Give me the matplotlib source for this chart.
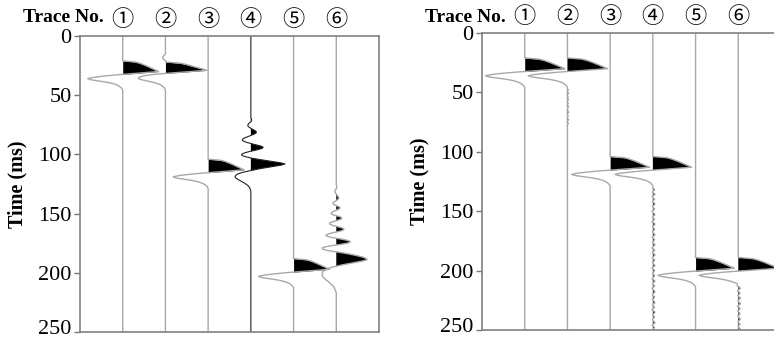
import numpy as np
import matplotlib
matplotlib.use("Agg")
import matplotlib.pyplot as plt
from matplotlib.transforms import ScaledTranslation

plt.rcParams["font.family"] = "serif"
plt.rcParams["font.serif"] = ["Liberation Serif", "DejaVu Serif"]

# time axis (ms), 1 ms sampling
T_END = 250
TICKS = [0, 50, 100, 150, 200, 250]
TRACE_LABELS = ["\u2460", "\u2461", "\u2462", "\u2463", "\u2464", "\u2465"]

# basic reflection wavelet, 1 ms samples from onset
WAVELET = [0.00, 0.30, 0.40, 0.47, 0.54, 0.60, 0.66, 0.72, 0.78, 0.84,
           0.50, 0.15, -0.20, -0.48, -0.70, -0.82, -0.74, -0.56, -0.38, -0.25,
           -0.16, -0.10, -0.06, -0.03, -0.01, 0.00]

# trace 2 (before): small precursor blip then a sharper arrival
TRACE2_ARRIVAL = [-0.02, -0.05, -0.06, -0.06, -0.03, 0.00, 0.02, 0.35, 0.48, 0.58,
                  0.68, 0.78, 0.88, 0.97, 0.60, 0.20, -0.15, -0.40, -0.55, -0.62,
                  -0.63, -0.55, -0.42, -0.30, -0.20, -0.13, -0.08, -0.05, -0.02, -0.01,
                  0.00]

# trace 4 (before): ringing ahead of the arrival, starts at 68 ms
TRACE4_RINGING = [0.00, 0.00, 0.01, 0.02, 0.01, -0.02, -0.05, -0.07, -0.07, -0.04,
                  0.00, 0.05, 0.10, 0.13, 0.12, 0.07, 0.00, -0.07, -0.14, -0.19,
                  -0.20, -0.16, -0.08, 0.02, 0.13, 0.24, 0.29, 0.26, 0.16, 0.04,
                  -0.08, -0.17, -0.22, -0.20, -0.12, 0.00, 0.15, 0.32, 0.50, 0.68,
                  0.80, 0.72, 0.55, 0.38, 0.22, 0.08, -0.05, -0.17, -0.27, -0.33,
                  -0.36, -0.37, -0.35, -0.31, -0.26, -0.21, -0.16, -0.12, -0.08, -0.05,
                  -0.03, -0.02, -0.01, 0.00]

# trace 6 (before): longer ringing, starts at 126 ms
TRACE6_RINGING = [0.00, 0.01, 0.01, 0.00, -0.02, -0.03, -0.03, -0.01, 0.01, 0.03,
                  0.05, 0.06, 0.04, 0.00, -0.05, -0.08, -0.07, -0.02, 0.05, 0.09,
                  0.07, 0.01, -0.06, -0.11, -0.12, -0.08, 0.02, 0.11, 0.13, 0.09,
                  0.00, -0.10, -0.16, -0.15, -0.08, 0.03, 0.13, 0.18, 0.16, 0.07,
                  -0.06, -0.17, -0.24, -0.23, -0.12, 0.04, 0.19, 0.30, 0.33, 0.26,
                  0.10, -0.09, -0.25, -0.33, -0.32, -0.22, -0.06, 0.12, 0.28, 0.42,
                  0.54, 0.64, 0.70, 0.72, 0.62, 0.48, 0.33, 0.18, 0.05, -0.07,
                  -0.16, -0.23, -0.28, -0.31, -0.33, -0.33, -0.33, -0.32, -0.30, -0.27,
                  -0.24, -0.20, -0.17, -0.14, -0.11, -0.08, -0.06, -0.04, -0.03, -0.02,
                  -0.01, 0.00]

# residual noise left on some traces after processing
R2_NOISE = [0.00, 0.02, -0.01, 0.01, 0.03, -0.01, 0.00, 0.02, -0.01, 0.03,
            0.00, -0.01, 0.02, 0.01, -0.01, 0.03, 0.00, 0.01, -0.01, 0.02,
            0.03, -0.01, 0.00, 0.02, -0.01, 0.01, 0.03, 0.00, -0.01, 0.02,
            0.01, -0.01, 0.00]
R4_NOISE = [0.00, 0.02, 0.04, 0.01, -0.01, 0.03, 0.05, 0.00, -0.02, 0.02,
            0.04, 0.01, -0.01, 0.03, 0.05, 0.02, -0.01, 0.01, 0.04, 0.02,
            -0.02, 0.00, 0.03, 0.05, 0.01, -0.01, 0.02, 0.04, 0.00, -0.02,
            0.03, 0.05, 0.02, -0.01, 0.01, 0.04, 0.03, -0.01, 0.00, 0.03,
            0.05, 0.01, -0.02, 0.02, 0.04, 0.02, -0.01, 0.01, 0.05, 0.03,
            0.00, -0.02, 0.02, 0.04, 0.01, -0.01, 0.03, 0.05, 0.02, -0.01,
            0.00, 0.04, 0.03, -0.01, 0.01, 0.03, 0.05, 0.00, -0.02, 0.02,
            0.04, 0.02, -0.01, 0.01, 0.04, 0.03, 0.00, -0.02, 0.03, 0.05,
            0.01, -0.01, 0.02, 0.04, 0.01, -0.02, 0.01, 0.03, 0.05, 0.02,
            -0.01, 0.00, 0.04, 0.03, -0.01, 0.01, 0.03, 0.05, 0.01, -0.01,
            0.02, 0.04, 0.00, -0.02, 0.02, 0.05, 0.03, -0.01, 0.01, 0.04,
            0.02, -0.01, 0.00, 0.03, 0.05, 0.01, -0.02, 0.02, 0.04, 0.01,
            0.00]
R6_NOISE = [0.00, 0.02, 0.04, 0.01, -0.01, 0.03, 0.05, 0.01, -0.02, 0.02,
            0.04, 0.02, -0.01, 0.01, 0.05, 0.03, -0.01, 0.00, 0.03, 0.05,
            0.01, -0.02, 0.02, 0.04, 0.02, -0.01, 0.01, 0.04, 0.03, -0.01,
            0.00, 0.03, 0.05, 0.02, -0.01, 0.01, 0.04, 0.02, -0.01, 0.02,
            0.04, 0.01]

# (onset ms, samples, gain) for each of the six traces
BEFORE = [
    [(21, WAVELET, 1.0)],
    [(16, TRACE2_ARRIVAL, 1.0)],
    [(104, WAVELET, 1.0)],
    [(68, TRACE4_RINGING, 1.0)],
    [(188, WAVELET, 1.0)],
    [(126, TRACE6_RINGING, 1.0)],
]
AFTER = [
    [(21, WAVELET, 1.12)],
    [(21, WAVELET, 1.12), (47, R2_NOISE, 1.0)],
    [(104, WAVELET, 1.10)],
    [(104, WAVELET, 1.08), (130, R4_NOISE, 1.0)],
    [(189, WAVELET, 1.08)],
    [(189, WAVELET, 1.12), (209, R6_NOISE, 1.0)],
]

t = np.arange(0, T_END + 1)

circ_font = ["DejaVu Serif", "Noto Sans CJK JP"]


def build_trace(events):
    amp = np.zeros(len(t))
    for onset, samples, gain in events:
        seg = gain * np.asarray(samples, dtype=float)
        n = min(len(seg), len(t) - onset)
        amp[onset:onset + n] += seg[:n]
    return amp


def draw_panel(fig, rect, traces, line_colors, line_widths):
    ax = fig.add_axes(rect)
    for i, events in enumerate(traces):
        base = i + 1
        amp = build_trace(events)
        ax.fill_betweenx(t, base, base + amp, where=amp > 0, interpolate=True,
                         color="black", lw=0)
        ax.plot(base + amp, t, color=line_colors[i], lw=line_widths[i])
        ax.text(base, 1.055, TRACE_LABELS[i], transform=ax.get_xaxis_transform(),
                ha="center", va="center", fontsize=16, family=circ_font)
    ax.set_xlim(0, 7)
    ax.set_ylim(T_END, 0)
    ax.set_xticks([])
    ax.set_yticks(TICKS)
    ax.set_yticklabels([str(v) for v in TICKS])
    ax.tick_params(axis="y", direction="out", length=4, width=1, color="#777777",
                   pad=2, labelsize=16)
    # lift the bottom label a little so it stays inside the figure
    last = ax.get_yticklabels()[-1]
    last.set_transform(last.get_transform() + ScaledTranslation(0, 3.5 / 72, fig.dpi_scale_trans))
    for s in ax.spines.values():
        s.set_color("#808080")
        s.set_linewidth(1.2)
    ax.set_ylabel("Time (ms)", fontweight="bold", fontsize=14.5, labelpad=8)
    return ax


fig = plt.figure(figsize=(7.74, 3.38), dpi=100)

gray = "#a8a8a8"
ax1 = draw_panel(fig, [80 / 774, 6 / 338, 299 / 774, 296 / 338], BEFORE,
                 [gray, gray, gray, "#222222", gray, gray],
                 [1.0, 1.0, 1.0, 0.8, 1.0, 1.0])
ax2 = draw_panel(fig, [482 / 774, 8 / 338, 299 / 774, 297 / 338], AFTER,
                 [gray] * 6, [1.0] * 6)

fig.text(104 / 774, 1 - 18 / 338, "Trace No.", ha="right", va="center",
         fontweight="bold", fontsize=14)
fig.text(506 / 774, 1 - 18 / 338, "Trace No.", ha="right", va="center",
         fontweight="bold", fontsize=14)

fig.savefig("out.png", dpi=100)
